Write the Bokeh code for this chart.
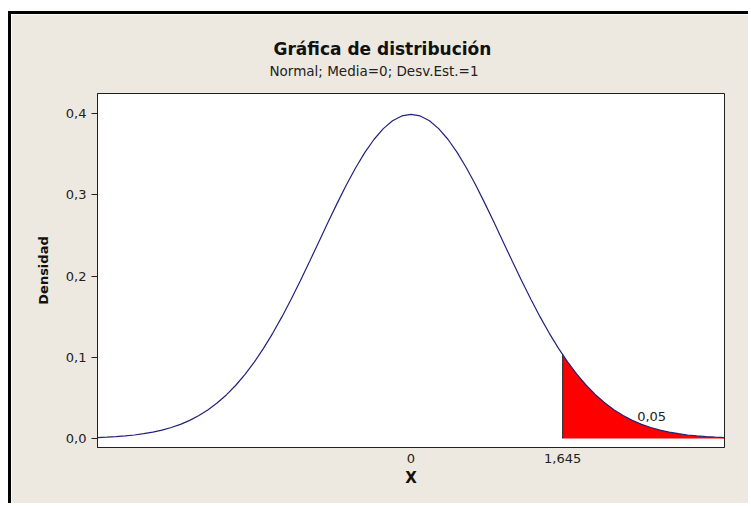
from bokeh.plotting import figure
from bokeh.layouts import column
from bokeh.models import Range1d, FixedTicker, Label, Title
from bokeh.embed import file_html
from bokeh.resources import INLINE

# ---- data ----
curve_x = [-3.4, -3.3, -3.2, -3.1, -3.0, -2.9, -2.8, -2.7, -2.6, -2.5, -2.4, -2.3,
           -2.2, -2.1, -2.0, -1.9, -1.8, -1.7, -1.6, -1.5, -1.4, -1.3, -1.2, -1.1,
           -1.0, -0.9, -0.8, -0.7, -0.6, -0.5, -0.4, -0.3, -0.2, -0.1, 0.0,
           0.1, 0.2, 0.3, 0.4, 0.5, 0.6, 0.7, 0.8, 0.9, 1.0, 1.1, 1.2, 1.3, 1.4,
           1.5, 1.6, 1.7, 1.8, 1.9, 2.0, 2.1, 2.2, 2.3, 2.4, 2.5, 2.6, 2.7, 2.8,
           2.9, 3.0, 3.1, 3.2, 3.3, 3.4]
curve_y = [0.0012, 0.0017, 0.0024, 0.0033, 0.0044, 0.0060, 0.0079, 0.0104, 0.0136,
           0.0175, 0.0224, 0.0283, 0.0355, 0.0440, 0.0540, 0.0656, 0.0790, 0.0940,
           0.1109, 0.1295, 0.1497, 0.1714, 0.1942, 0.2179, 0.2420, 0.2661, 0.2897,
           0.3123, 0.3332, 0.3521, 0.3683, 0.3814, 0.3910, 0.3970, 0.3989,
           0.3970, 0.3910, 0.3814, 0.3683, 0.3521, 0.3332, 0.3123, 0.2897, 0.2661,
           0.2420, 0.2179, 0.1942, 0.1714, 0.1497, 0.1295, 0.1109, 0.0940, 0.0790,
           0.0656, 0.0540, 0.0440, 0.0355, 0.0283, 0.0224, 0.0175, 0.0136, 0.0104,
           0.0079, 0.0060, 0.0044, 0.0033, 0.0024, 0.0017, 0.0012]
critical_x = 1.645
critical_y = 0.1031
tail_area_label = "0,05"
y_ticks = [0.0, 0.1, 0.2, 0.3, 0.4]
y_tick_labels = ["0,0", "0,1", "0,2", "0,3", "0,4"]
x_ticks = [0.0, 1.645]
x_tick_labels = ["0", "1,645"]
title_text = "Gráfica de distribución"
subtitle_text = "Normal; Media=0; Desv.Est.=1"
x_label = "X"
y_label = "Densidad"

# shaded tail built from the read values
shade_x = [critical_x] + [x for x in curve_x if x > critical_x]
shade_y = [critical_y] + [y for x, y in zip(curve_x, curve_y) if x > critical_x]

BG = "#EDE9E0"
FONT = "DejaVu Sans"

p = figure(width=740, height=492, output_backend="svg", toolbar_location=None,
           x_range=Range1d(-3.4, 3.4), y_range=Range1d(-0.011, 0.4246),
           min_border_left=86, min_border_right=27, min_border_top=79,
           min_border_bottom=59)
p.styles = {"margin-left": "8px", "margin-top": "11px",
            "border-left": "3px solid black", "border-top": "3px solid black"}
p.background_fill_color = "white"
p.border_fill_color = BG
p.outline_line_color = "#202020"
p.outline_line_width = 1
p.grid.visible = False

# red tail
p.varea(x=shade_x, y1=[0] * len(shade_x), y2=shade_y, fill_color="#FF0000")
p.segment(x0=[critical_x], y0=[0], x1=[critical_x], y1=[critical_y],
          line_color="#202020", line_width=1)
# density curve
p.line(curve_x, curve_y, line_color="#22227A", line_width=1.2)

# axes
p.yaxis.ticker = FixedTicker(ticks=y_ticks)
p.yaxis.major_label_overrides = {t: l for t, l in zip(y_ticks, y_tick_labels)}
p.xaxis.ticker = FixedTicker(ticks=x_ticks)
p.xaxis.major_label_overrides = {t: l for t, l in zip(x_ticks, x_tick_labels)}
for ax in (p.xaxis[0], p.yaxis[0]):
    ax.axis_line_color = "#202020"
    ax.major_tick_line_color = "#202020"
    ax.minor_tick_line_color = None
    ax.major_label_text_font = FONT
    ax.major_label_text_font_size = "13px"
    ax.major_label_text_color = "#222222"
    ax.axis_label_text_font = FONT
    ax.axis_label_text_font_style = "bold"
    ax.axis_label_text_color = "#111111"
p.yaxis.major_tick_out = 6
p.yaxis.major_tick_in = 0
p.yaxis.major_label_standoff = 5
p.yaxis.axis_label = y_label
p.yaxis.axis_label_text_font_size = "13px"
p.yaxis.axis_label_standoff = 12
p.xaxis.major_tick_out = 0
p.xaxis.major_tick_in = 0
p.xaxis.major_label_standoff = 6
p.xaxis.axis_label = x_label
p.xaxis.axis_label_text_font_size = "15px"
p.xaxis.axis_label_standoff = 3

# titles: main title is the figure title (outermost)
p.title.text = title_text
p.title.align = "left"
p.title.offset = 176
p.title.standoff = 3
p.title.text_font = FONT
p.title.text_font_style = "bold"
p.title.text_font_size = "17px"
p.title.text_color = "#111111"
# background-coloured spacer nearest the frame (added first), then the subtitle
p.add_layout(Title(text=".", align="left", offset=0, standoff=6,
                   text_font=FONT, text_font_size="8px", text_color=BG), "above")
p.add_layout(Title(text=subtitle_text, align="left", offset=172, standoff=0,
                   text_font=FONT, text_font_style="normal", text_font_size="13.5px",
                   text_color="#222222"), "above")

# tail area label
p.add_layout(Label(x=2.61, y=0.027, text=tail_area_label, text_align="center",
                   text_baseline="middle", text_font=FONT, text_font_size="13px",
                   text_color="#222222"))

page = column(p, styles={"background-color": "white"})
open("out.html", "w").write(file_html(page, INLINE))
